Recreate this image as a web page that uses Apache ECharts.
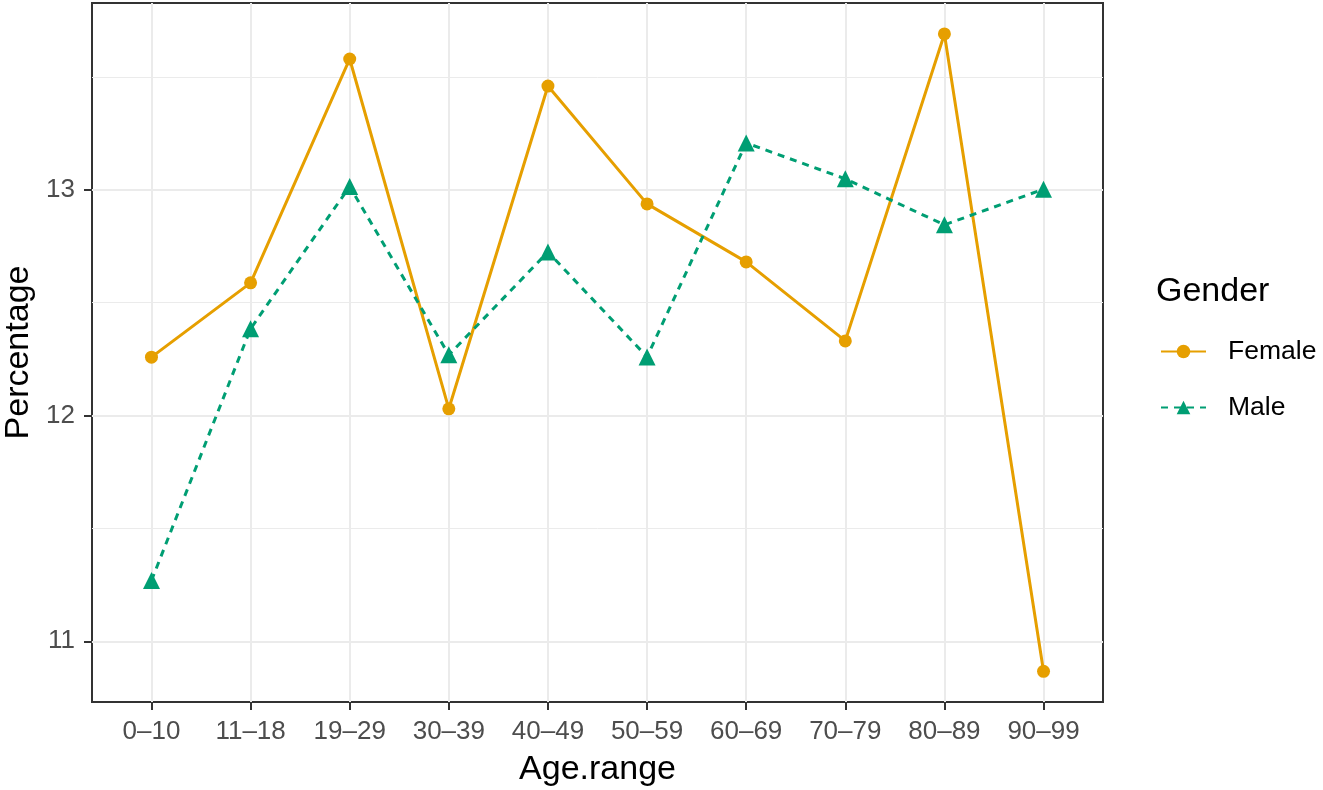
<!DOCTYPE html>
<html>
<head>
<meta charset="utf-8">
<script src="https://cdn.jsdelivr.net/npm/echarts@6/dist/echarts.min.js"></script>
<style>
html,body{margin:0;padding:0;background:#fff;}
#chart{width:1323px;height:790px;}
</style>
</head>
<body>
<div id="chart"></div>
<script>
const categories = ['0–10','11–18','19–29','30–39','40–49','50–59','60–69','70–79','80–89','90–99'];
const female = [12.259, 12.588, 13.580, 12.030, 13.460, 12.938, 12.681, 12.331, 13.691, 10.867];
const male = [11.269, 12.385, 13.015, 12.269, 12.725, 12.260, 13.208, 13.049, 12.845, 13.003];
const yMajorTicks = [11, 12, 13];
const yMinorTicks = [11.5, 12.5, 13.5];

const FONT = '"Liberation Sans", Arial, sans-serif';
const catIdx = categories.map((c, i) => i);

const chart = echarts.init(document.getElementById('chart'), null, {renderer: 'canvas'});
chart.setOption({
  animation: false,
  backgroundColor: '#ffffff',
  textStyle: {fontFamily: FONT},
  title: {
    text: 'Gender', left: 1156, top: 275, padding: 0,
    textStyle: {fontSize: 34, fontWeight: 'normal', color: '#000', fontFamily: FONT}
  },
  legend: [
    {
      data: ['Female'], orient: 'vertical', left: 1160, top: 338, padding: 0,
      itemWidth: 45, itemHeight: 17,
      textStyle: {fontSize: 26.5, color: '#000', fontFamily: FONT, padding: [0, 0, 0, 17]}
    },
    {
      data: ['Male'], orient: 'vertical', left: 1160, top: 394, padding: 0,
      itemWidth: 45, itemHeight: 17,
      textStyle: {fontSize: 26.5, color: '#000', fontFamily: FONT, padding: [0, 0, 0, 17]}
    }
  ],
  grid: {
    left: 92, top: 3, right: 220, bottom: 88,
    show: true, borderColor: '#333', borderWidth: 2, backgroundColor: 'transparent',
    containLabel: false, outerBoundsMode: 'none'
  },
  xAxis: {
    type: 'value', min: -0.6, max: 9.6,
    name: 'Age.range', nameLocation: 'middle', nameGap: 51,
    nameTextStyle: {fontSize: 34, color: '#000', fontFamily: FONT},
    axisLine: {show: false, onZero: false},
    axisTick: {show: true, customValues: catIdx, length: 8, lineStyle: {color: '#333', width: 2}},
    axisLabel: {
      customValues: catIdx, fontSize: 26, color: '#4D4D4D', margin: 17, fontFamily: FONT,
      formatter: v => categories[Math.round(v)] || ''
    },
    splitLine: {show: true, lineStyle: {color: '#EBEBEB', width: 2}}
  },
  yAxis: [
    {
      type: 'value', min: 10.731, max: 13.828,
      name: 'Percentage', nameLocation: 'middle', nameGap: 56, nameRotate: 90,
      nameTextStyle: {fontSize: 34, color: '#000', fontFamily: FONT},
      axisLine: {show: false, onZero: false},
      axisTick: {show: true, customValues: yMajorTicks, length: 8, lineStyle: {color: '#333', width: 2}},
      axisLabel: {customValues: yMajorTicks, fontSize: 26, color: '#4D4D4D', margin: 17, fontFamily: FONT},
      splitLine: {show: true, lineStyle: {color: '#EBEBEB', width: 2}}
    },
    {
      type: 'value', min: 10.731, max: 13.828, position: 'left',
      axisLine: {show: false, onZero: false},
      axisTick: {show: false, customValues: yMinorTicks},
      axisLabel: {show: false, customValues: yMinorTicks},
      splitLine: {show: true, lineStyle: {color: '#EBEBEB', width: 1}}
    }
  ],
  series: [
    {
      name: 'Female', type: 'line',
      data: female.map((v, i) => [i, v]),
      symbol: 'circle', symbolSize: 13,
      itemStyle: {color: '#E69F00'},
      lineStyle: {color: '#E69F00', width: 3, type: 'solid'},
      z: 3
    },
    {
      name: 'Male', type: 'line',
      data: male.map((v, i) => [i, v]),
      symbol: 'triangle', symbolSize: 17,
      itemStyle: {color: '#009E73'},
      lineStyle: {color: '#009E73', width: 3, type: [7, 6]},
      z: 3
    }
  ]
});
</script>
</body>
</html>
